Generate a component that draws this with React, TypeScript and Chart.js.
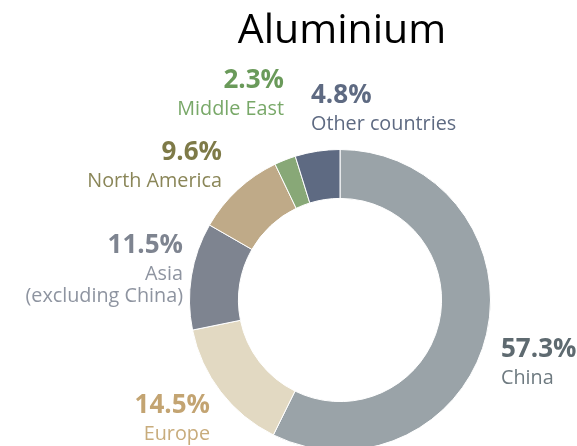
import React, { useEffect, useRef } from "react";
import { Chart, registerables } from "chart.js";

Chart.register(...registerables);

const TITLE = "Aluminium";
const regions = ["China", "Europe", "Asia (excluding China)", "North America", "Middle East", "Other countries"];
const shares = [57.3, 14.5, 11.5, 9.6, 2.3, 4.8];
const shareLabels = ["57.3%", "14.5%", "11.5%", "9.6%", "2.3%", "4.8%"];
const nameLines = [["China"], ["Europe"], ["Asia", "(excluding China)"], ["North America"], ["Middle East"], ["Other countries"]];
const sliceColors = ["#9aa3a8", "#e2d9c2", "#7e8490", "#bfaa88", "#88a877", "#5e6a82"];
const pctColors = ["#5e6a70", "#c3a472", "#7e8490", "#7e7a48", "#6a9a5a", "#5e6a82"];
const nameColors = ["#6e7a80", "#c8ac7c", "#8e94a0", "#8a8658", "#78a868", "#5e6a82"];

// label placement relative to doughnut centre: [dx, dy(baseline of %), align]
const labelLayout: [number, number, CanvasTextAlign][] = [
  [161, 57, "left"],
  [-130, 113, "right"],
  [-157, -47, "right"],
  [-118, -140, "right"],
  [-56, -212, "right"],
  [-29, -197, "left"],
];

const labelPlugin = {
  id: "customLabels",
  afterDraw(chart: any) {
    const ctx = chart.ctx;
    const meta = chart.getDatasetMeta(0);
    const arc = meta.data[0];
    if (!arc) return;
    const cx = arc.x;
    const cy = arc.y;
    ctx.save();
    ctx.fillStyle = "#000000";
    ctx.font = '400 41px "Open Sans"';
    ctx.textAlign = "center";
    ctx.textBaseline = "alphabetic";
    ctx.fillText(TITLE, cx + 2, 43);
    for (let i = 0; i < shares.length; i++) {
      const [dx, dy, align] = labelLayout[i];
      ctx.textAlign = align;
      ctx.fillStyle = pctColors[i];
      ctx.font = '700 26px "Open Sans"';
      ctx.fillText(shareLabels[i], cx + dx, cy + dy);
      ctx.fillStyle = nameColors[i];
      ctx.font = '400 19.8px "Open Sans"';
      nameLines[i].forEach((line, j) => {
        ctx.fillText(line, cx + dx, cy + dy + 27 + j * 22);
      });
    }
    ctx.restore();
  },
};

export default function App() {
  const ref = useRef<HTMLCanvasElement>(null);
  useEffect(() => {
    if (!ref.current) return;
    const chart = new Chart(ref.current, {
      type: "doughnut",
      data: {
        labels: regions,
        datasets: [
          {
            data: shares,
            backgroundColor: sliceColors,
            borderColor: "#ffffff",
            borderWidth: 1,
          },
        ],
      },
      options: {
        responsive: false,
        animation: false,
        cutout: "67.5%",
        layout: { padding: { left: 189, right: 86, top: 149, bottom: 19 } },
        plugins: {
          legend: { display: false },
          tooltip: { enabled: false },
          title: { display: false },
        },
      },
      plugins: [labelPlugin],
    });
    return () => chart.destroy();
  }, []);
  return (
    <div style={{ position: "fixed", left: 0, top: 0, width: 577, height: 446, overflow: "hidden", background: "#fff" }}>
      <canvas ref={ref} width={577} height={470} style={{ display: "block" }} />
    </div>
  );
}
